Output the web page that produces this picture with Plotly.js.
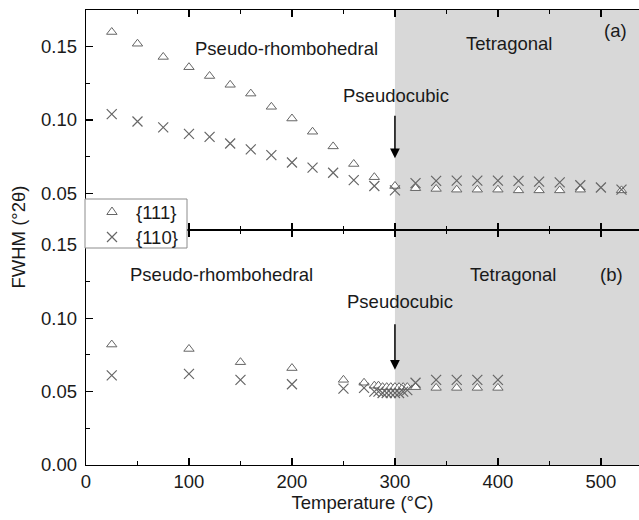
<!DOCTYPE html>
<html>
<head>
<meta charset="utf-8">
<script src="https://cdn.plot.ly/plotly-3.0.1.min.js"></script>
<style>html,body{margin:0;padding:0;background:#fff;}#chart{width:639px;height:520px;}</style>
</head>
<body>
<div id="chart"></div>
<script>
// ---- Data (a) upper panel ----
const tempTop111 = [25,50,75,100,120,140,160,180,200,220,240,260,280,300,320,340,360,380,400,420,440,460,480,520];
const fwhmTop111 = [0.160,0.152,0.143,0.136,0.130,0.124,0.118,0.109,0.101,0.092,0.082,0.070,0.061,0.055,0.0535,0.053,0.0525,0.0525,0.0525,0.052,0.052,0.052,0.0525,0.052];
const tempTop110 = [25,50,75,100,120,140,160,180,200,220,240,260,280,300,320,340,360,380,400,420,440,460,480,500,520];
const fwhmTop110 = [0.104,0.099,0.095,0.0905,0.0885,0.084,0.080,0.076,0.071,0.0675,0.064,0.059,0.055,0.052,0.057,0.0585,0.0587,0.0587,0.0587,0.0585,0.058,0.0575,0.0555,0.054,0.0525];
// ---- Data (b) lower panel ----
const tempBot111 = [25,100,150,200,250,270,280,284,288,292,296,300,304,308,312,320,340,360,380,400];
const fwhmBot111 = [0.082,0.079,0.070,0.066,0.058,0.056,0.054,0.054,0.053,0.053,0.053,0.053,0.053,0.053,0.053,0.053,0.0525,0.0525,0.0525,0.0525];
const tempBot110 = [25,100,150,200,250,270,280,284,288,292,296,300,304,308,312,320,340,360,380,400];
const fwhmBot110 = [0.061,0.062,0.058,0.055,0.052,0.0525,0.050,0.050,0.049,0.049,0.049,0.049,0.049,0.050,0.051,0.056,0.058,0.058,0.058,0.058];
// ---- Labels ----
const seriesNames = ['{111}','{110}'];
const xTicks = [0,100,200,300,400,500];
const phaseBoundary = 300;

const FONT = 'Liberation Sans, Arial, sans-serif';
const FS = 18.5;
const TXT = '#1a1a1a';
const triMarker = {symbol:'triangle-up', size:9, color:'#ffffff', line:{color:'#666666', width:1}};
const xMarker = {symbol:'x-thin-open', size:10, color:'#666666', line:{color:'#666666', width:1.2}};

const traces = [
  {x:tempTop111, y:fwhmTop111, xaxis:'x2', yaxis:'y2', mode:'markers', type:'scatter', name:seriesNames[0], marker:triMarker},
  {x:tempTop110, y:fwhmTop110, xaxis:'x2', yaxis:'y2', mode:'markers', type:'scatter', name:seriesNames[1], marker:xMarker},
  {x:tempBot111, y:fwhmBot111, xaxis:'x', yaxis:'y', mode:'markers', type:'scatter', name:seriesNames[0], marker:triMarker},
  {x:tempBot110, y:fwhmBot110, xaxis:'x', yaxis:'y', mode:'markers', type:'scatter', name:seriesNames[1], marker:xMarker}
];

const axCommon = {showline:true, linecolor:'#000', linewidth:1.2, ticks:'inside', ticklen:7, tickwidth:1.2, tickcolor:'#000', showgrid:false, zeroline:false};
const split = 0.5165;

// legend box geometry (paper coords)
const px2x = p => (p - 86) / 553;
const px2y = p => (465 - p) / 455;

const layout = {
  width:639, height:520,
  margin:{l:86, r:0, t:10, b:55},
  paper_bgcolor:'#fff', plot_bgcolor:'#fff',
  font:{family:FONT, size:FS, color:TXT},
  showlegend:false,
  xaxis:Object.assign({}, axCommon, {domain:[0,1], anchor:'y', range:[0,537], tickvals:xTicks, mirror:'ticks',
          minor:{dtick:50, tick0:0, ticks:'inside', ticklen:4, tickcolor:'#000'},
          tickfont:{family:FONT, size:FS, color:TXT},
          title:{text:'Temperature (°C)', font:{family:FONT, size:FS, color:TXT}, standoff:4}}),
  xaxis2:Object.assign({}, axCommon, {domain:[0,1], anchor:'y2', matches:'x', range:[0,537], tickvals:xTicks, mirror:'ticks', showticklabels:false,
          minor:{dtick:50, tick0:0, ticks:'inside', ticklen:4, tickcolor:'#000'}}),
  yaxis:Object.assign({}, axCommon, {domain:[0,split], anchor:'x', range:[0,0.16], tick0:0, dtick:0.05, tickformat:'.2f', ticklabelstandoff:4,
          minor:{dtick:0.025, tick0:0, ticks:'inside', ticklen:4, tickcolor:'#000'},
          tickfont:{family:FONT, size:FS, color:TXT}}),
  yaxis2:Object.assign({}, axCommon, {domain:[split,1], anchor:'x2', range:[0.025,0.175], tick0:0, dtick:0.05, tickformat:'.2f', ticklabelstandoff:4,
          minor:{dtick:0.025, tick0:0, ticks:'inside', ticklen:4, tickcolor:'#000'},
          tickfont:{family:FONT, size:FS, color:TXT}}),
  shapes:[
    {type:'rect', xref:'x', yref:'paper', x0:phaseBoundary, x1:600, y0:0, y1:1, fillcolor:'#d8d8d8', line:{width:0}, layer:'below'},
    // legend box
    {type:'rect', xref:'paper', yref:'paper', x0:px2x(85), x1:px2x(187), y0:px2y(248), y1:px2y(199), fillcolor:'#ffffff', line:{color:'#8c8c8c', width:1}, layer:'above'},
    // legend symbols
    {type:'path', xref:'paper', yref:'paper', xsizemode:'pixel', ysizemode:'pixel', xanchor:px2x(112), yanchor:px2y(212),
     path:'M-5.2,-2.5 L5.2,-2.5 L0,5 Z', fillcolor:'#ffffff', line:{color:'#666666', width:1}, layer:'above'},
    {type:'path', xref:'paper', yref:'paper', xsizemode:'pixel', ysizemode:'pixel', xanchor:px2x(112), yanchor:px2y(237),
     path:'M-5,-5 L5,5 M-5,5 L5,-5', line:{color:'#666666', width:1.2}, layer:'above'}
  ],
  annotations:[
    {text:'FWHM (°2θ)', xref:'paper', yref:'paper', x:px2x(18), y:0.5, xanchor:'center', yanchor:'middle', textangle:-90, showarrow:false},
    {text:seriesNames[0], xref:'paper', yref:'paper', x:px2x(134), y:px2y(212), xanchor:'left', yanchor:'middle', showarrow:false},
    {text:seriesNames[1], xref:'paper', yref:'paper', x:px2x(134), y:px2y(237), xanchor:'left', yanchor:'middle', showarrow:false},
    {text:'Pseudo-rhombohedral', xref:'x2', yref:'y2', x:195, y:0.149, showarrow:false},
    {text:'Pseudocubic', xref:'x2', yref:'y2', x:301, y:0.1168, showarrow:false},
    {text:'Tetragonal', xref:'x2', yref:'y2', x:411, y:0.1523, showarrow:false},
    {text:'(a)', xref:'x2', yref:'y2', x:514, y:0.161, showarrow:false},
    {text:'', xref:'x2', yref:'y2', x:phaseBoundary, y:0.0739, ax:0, ay:-44, showarrow:true, arrowhead:2, arrowsize:1.3, arrowwidth:1.5, arrowcolor:'#000'},
    {text:'Pseudo-rhombohedral', xref:'x', yref:'y', x:132, y:0.1296, showarrow:false},
    {text:'Pseudocubic', xref:'x', yref:'y', x:305, y:0.111, showarrow:false},
    {text:'Tetragonal', xref:'x', yref:'y', x:415, y:0.1296, showarrow:false},
    {text:'(b)', xref:'x', yref:'y', x:510, y:0.1296, showarrow:false},
    {text:'', xref:'x', yref:'y', x:phaseBoundary, y:0.0648, ax:0, ay:-47, showarrow:true, arrowhead:2, arrowsize:1.3, arrowwidth:1.5, arrowcolor:'#000'}
  ]
};

Plotly.newPlot('chart', traces, layout, {staticPlot:true, displayModeBar:false});
</script>
</body>
</html>
